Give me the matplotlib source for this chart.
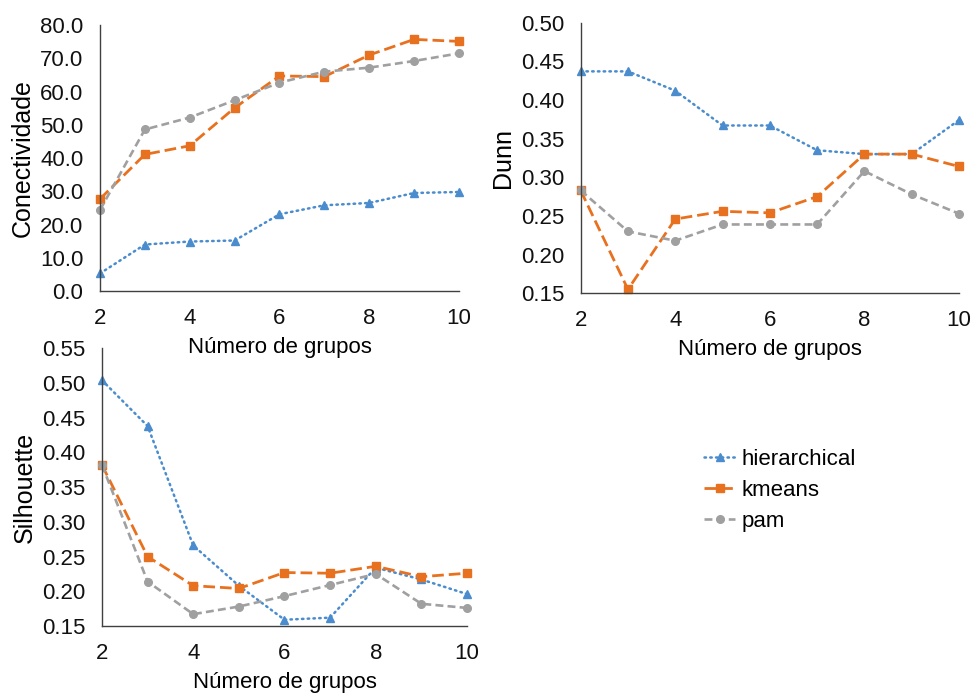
import matplotlib
matplotlib.use("Agg")
import matplotlib.pyplot as plt
from matplotlib.ticker import FormatStrFormatter, MultipleLocator

plt.rcParams['font.family'] = ['Liberation Sans', 'DejaVu Sans']

k = [2, 3, 4, 5, 6, 7, 8, 9, 10]
methods = ["hierarchical", "kmeans", "pam"]

conect_hier = [5.3, 14.0, 14.9, 15.2, 23.1, 25.8, 26.5, 29.5, 29.8]
conect_kmeans = [27.7, 41.1, 43.7, 55.1, 64.7, 64.5, 71.0, 75.7, 75.1]
conect_pam = [24.4, 48.6, 52.2, 57.4, 62.7, 66.0, 67.2, 69.2, 71.5]

dunn_hier = [0.437, 0.437, 0.412, 0.367, 0.367, 0.335, 0.330, 0.330, 0.374]
dunn_kmeans = [0.283, 0.155, 0.246, 0.256, 0.254, 0.275, 0.330, 0.330, 0.314]
dunn_pam = [0.283, 0.230, 0.218, 0.239, 0.239, 0.239, 0.308, 0.278, 0.253]

silh_hier = [0.504, 0.438, 0.266, 0.208, 0.159, 0.162, 0.234, 0.217, 0.196]
silh_kmeans = [0.382, 0.250, 0.208, 0.204, 0.227, 0.226, 0.236, 0.221, 0.226]
silh_pam = [0.382, 0.214, 0.167, 0.178, 0.193, 0.209, 0.225, 0.182, 0.176]

colors = {"hierarchical": "#4A8CCD", "kmeans": "#E8711F", "pam": "#A0A0A0"}
styles = {
    "hierarchical": dict(linestyle=(0, (0.6, 1.7)), marker="^", markersize=6, linewidth=1.8,
                         dash_capstyle="round"),
    "kmeans": dict(linestyle=(0, (4.2, 1.8)), marker="s", markersize=5.5, linewidth=2.0),
    "pam": dict(linestyle=(0, (3.0, 1.6)), marker="o", markersize=5.5, linewidth=1.9),
}

fig = plt.figure(figsize=(9.72, 6.93), dpi=100)

panels = [
    ([0.1029, 0.580, 0.3693, 0.3838], (conect_hier, conect_kmeans, conect_pam),
     "Conectividade", (0, 80), 10, "%.1f"),
    ([0.5974, 0.5768, 0.3892, 0.3905], (dunn_hier, dunn_kmeans, dunn_pam),
     "Dunn", (0.15, 0.50), 0.05, "%.2f"),
    ([0.1049, 0.0967, 0.3755, 0.4007], (silh_hier, silh_kmeans, silh_pam),
     "Silhouette", (0.15, 0.55), 0.05, "%.2f"),
]

handles = []
for rect, series, ylabel, ylim, step, fmt in panels:
    ax = fig.add_axes(rect)
    ax.patch.set_alpha(0)
    for name, vals in zip(methods, series):
        ln, = ax.plot(k, vals, color=colors[name], label=name, clip_on=False,
                      **styles[name])
        if len(handles) < 3:
            handles.append(ln)
    ax.set_xlim(2, 10)
    ax.set_ylim(*ylim)
    ax.set_xticks([2, 4, 6, 8, 10])
    ax.yaxis.set_major_locator(MultipleLocator(step))
    ax.yaxis.set_major_formatter(FormatStrFormatter(fmt))
    for side in ("top", "right"):
        ax.spines[side].set_visible(False)
    for side in ("left", "bottom"):
        ax.spines[side].set_color("#404040")
        ax.spines[side].set_linewidth(1.0)
    ax.tick_params(length=0, labelsize=16, pad=12, colors="#111111")
    ax.set_xlabel("Número de grupos", fontsize=16, labelpad=6)
    ax.set_ylabel(ylabel, fontsize=18, labelpad=4)

fig.legend(handles=handles, labels=methods, loc="upper left",
           bbox_to_anchor=(0.7037, 0.3815), frameon=False, fontsize=16,
           handlelength=1.4, handletextpad=0.3, labelspacing=0.45)

fig.savefig("out.png", dpi=100, facecolor="white")
